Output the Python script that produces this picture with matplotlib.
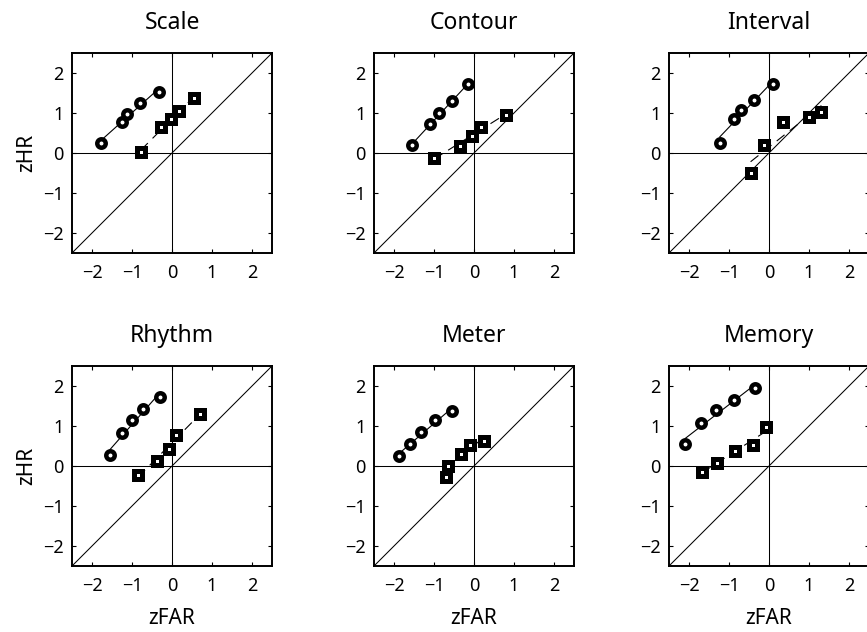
import numpy as np
import matplotlib
matplotlib.use("Agg")
import matplotlib.pyplot as plt

plt.rcParams['font.family'] = ['Noto Sans', 'DejaVu Sans']

titles = ["Scale", "Contour", "Interval", "Rhythm", "Meter", "Memory"]

circ_x = [
    [-1.78, -1.26, -1.13, -0.80, -0.33],
    [-1.54, -1.10, -0.88, -0.54, -0.14],
    [-1.23, -0.88, -0.70, -0.37, 0.11],
    [-1.55, -1.24, -1.01, -0.73, -0.29],
    [-1.87, -1.60, -1.33, -0.97, -0.56],
    [-2.09, -1.71, -1.32, -0.87, -0.34],
]
circ_y = [
    [0.24, 0.78, 0.98, 1.24, 1.53],
    [0.20, 0.72, 1.00, 1.30, 1.72],
    [0.26, 0.85, 1.08, 1.33, 1.72],
    [0.27, 0.83, 1.14, 1.42, 1.73],
    [0.24, 0.56, 0.86, 1.14, 1.37],
    [0.55, 1.08, 1.40, 1.65, 1.96],
]
sq_x = [
    [-0.78, -0.28, -0.03, 0.18, 0.56],
    [-1.00, -0.36, -0.04, 0.17, 0.79],
    [-0.46, -0.12, 0.36, 1.00, 1.31],
    [-0.85, -0.38, -0.08, 0.09, 0.70],
    [-0.70, -0.64, -0.33, -0.09, 0.25],
    [-1.67, -1.30, -0.84, -0.39, -0.08],
]
sq_y = [
    [0.02, 0.64, 0.84, 1.04, 1.38],
    [-0.12, 0.18, 0.42, 0.66, 0.96],
    [-0.51, 0.19, 0.78, 0.90, 1.03],
    [-0.23, 0.12, 0.43, 0.78, 1.29],
    [-0.27, -0.01, 0.29, 0.53, 0.63],
    [-0.14, 0.07, 0.38, 0.53, 0.97],
]
ticks = [-2, -1, 0, 1, 2]
tick_labels = ["\u22122", "\u22121", "0", "1", "2"]

W, H = 867, 632
fig = plt.figure(figsize=(W / 100, H / 100), dpi=100)

lefts = [72, 374, 669]
tops = [53, 366]
size = 200

for i in range(6):
    r, c = divmod(i, 3)
    l = lefts[c]
    t = tops[r]
    ax = fig.add_axes([l / W, (H - t - size) / H, size / W, size / H])
    ax.set_xlim(-2.5, 2.5)
    ax.set_ylim(-2.5, 2.5)
    ax.plot([-2.5, 2.5], [-2.5, 2.5], color='black', lw=0.75, zorder=1)
    ax.axhline(0, color='black', lw=0.75, zorder=1)
    ax.axvline(0, color='black', lw=0.75, zorder=1)

    cx = np.array(circ_x[i]); cy = np.array(circ_y[i])
    sx = np.array(sq_x[i]); sy = np.array(sq_y[i])
    pc = np.polyfit(cx, cy, 1)
    ps = np.polyfit(sx, sy, 1)
    xc = np.array([cx.min(), cx.max()])
    xs = np.array([sx.min(), sx.max()])
    ax.plot(xc, np.polyval(pc, xc), color='black', lw=0.8, zorder=2)
    ax.plot(xs, np.polyval(ps, xs), color='black', lw=0.8, dashes=(9, 6), zorder=2)
    ax.plot(cx, cy, 'o', ms=6.1, mew=3.2, mec='black', mfc='white', ls='none', zorder=3)
    ax.plot(sx, sy, 's', ms=5.3, mew=3.6, mec='black', mfc='white', ls='none', zorder=3)

    ax.set_xticks(ticks)
    ax.set_yticks(ticks)
    ax.set_xticklabels(tick_labels)
    ax.set_yticklabels(tick_labels)
    ax.tick_params(direction='in', length=3, width=0.8, top=True, right=True,
                   labelsize=13)
    ax.tick_params(axis='x', pad=8)
    ax.tick_params(axis='y', pad=6)
    for sp in ax.spines.values():
        sp.set_linewidth(1.4)
    ax.set_title(titles[i], fontsize=16.5, pad=17)
    if c == 0:
        ax.set_ylabel("zHR", fontsize=15, labelpad=4)
    if r == 1:
        ax.set_xlabel("zFAR", fontsize=15, labelpad=9)

fig.savefig("out.png", dpi=100)
